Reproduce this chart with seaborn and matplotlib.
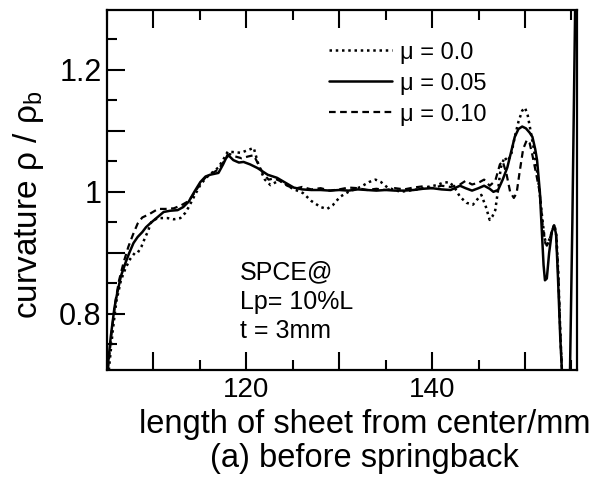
import matplotlib
matplotlib.use("Agg")
import matplotlib.pyplot as plt
import seaborn as sns
import numpy as np
import pandas as pd

# curvature ratio along the sheet, friction coefficient mu = 0.0 (dotted)
x_mu000 = [105.2, 105.6, 106.0, 106.5, 107.0, 107.5, 108.0, 108.3, 108.7, 109.1,
           109.4, 109.8, 110.5, 111.5, 112.2, 112.9, 113.4, 113.8, 114.4, 115.0,
           115.6, 116.2, 117.0, 117.6, 118.0, 118.7, 119.4, 120.1, 120.8, 121.2,
           121.5, 122.0, 122.6, 123.2, 123.7, 124.3, 125.0, 126.1, 127.0, 128.0,
           128.7, 129.3, 130.1, 131.0, 132.3, 133.2, 133.9, 134.5, 135.2, 136.6,
           137.5, 138.5, 139.5, 140.5, 141.2, 141.9, 142.5, 143.0, 143.7, 144.4,
           145.0, 145.3, 145.8, 146.2, 146.5, 146.8, 147.1, 147.4, 147.8, 148.1,
           148.5, 148.9, 149.3, 149.7, 150.0, 150.3, 150.6, 150.9, 151.2, 151.5,
           151.8, 152.1, 152.35, 152.7, 153.0, 153.2, 153.4, 153.6, 153.8, 154.0,
           154.1]
y_mu000 = [0.708, 0.77, 0.82, 0.855, 0.875, 0.89, 0.90, 0.90, 0.91, 0.925,
           0.935, 0.952, 0.957, 0.957, 0.955, 0.957, 0.965, 0.975, 0.993, 1.01,
           1.022, 1.03, 1.04, 1.055, 1.066, 1.065, 1.064, 1.068, 1.072, 1.05,
           1.036, 1.02, 1.011, 1.016, 1.018, 1.012, 1.005, 0.998, 0.985, 0.975,
           0.972, 0.978, 0.992, 1.0, 1.008, 1.016, 1.02, 1.016, 1.007, 1.0,
           1.002, 1.004, 1.008, 1.011, 1.015, 1.016, 1.005, 0.992, 0.982, 0.979,
           0.99, 0.995, 0.975, 0.954, 0.96, 0.97, 1.003, 1.04, 1.057, 1.05,
           1.06, 1.09, 1.115, 1.133, 1.138, 1.125, 1.10, 1.075, 1.045, 1.01,
           0.965, 0.925, 0.912, 0.925, 0.94, 0.945, 0.925, 0.86, 0.77, 0.70,
           0.66]

# mu = 0.05 (solid)
x_mu005 = [105.05, 105.4, 105.8, 106.1, 106.5, 107.0, 107.4, 107.85, 108.3, 108.8,
           109.2, 109.7, 110.4, 111.1, 111.8, 112.6, 113.2, 113.8, 114.4, 115.05,
           115.6, 116.1, 117.0, 117.5, 118.0, 118.6, 119.2, 119.7, 120.4, 121.2,
           122.3, 123.3, 124.2, 125.1, 126.0, 127.0, 128.0, 129.0, 130.0, 131.0,
           132.0, 133.0, 134.0, 135.0, 136.0, 137.0, 138.0, 139.0, 140.0, 141.0,
           142.0, 143.0, 143.6, 144.3, 145.0, 145.6, 146.2, 146.6, 147.1, 147.6,
           148.1, 148.5, 148.9, 149.3, 149.7, 150.1, 150.5, 150.8, 151.1, 151.3,
           151.6, 151.8, 152.0, 152.15, 152.35, 152.6, 152.9, 153.15, 153.35, 153.55,
           153.8, 154.0, 154.3, 154.6, 154.85, 155.1, 155.4, 155.55]
y_mu005 = [0.708, 0.762, 0.81, 0.834, 0.862, 0.884, 0.90, 0.916, 0.926, 0.934,
           0.942, 0.949, 0.958, 0.967, 0.969, 0.970, 0.975, 0.984, 1.0, 1.016,
           1.025, 1.028, 1.031, 1.045, 1.061, 1.052, 1.048, 1.049, 1.045, 1.039,
           1.028, 1.023, 1.015, 1.007, 1.004, 1.003, 1.003, 1.002, 1.003, 1.002,
           1.004, 1.003, 1.002, 1.003, 1.002, 1.002, 1.003, 1.005, 1.006, 1.004,
           1.003, 1.01, 1.006, 1.002, 1.006, 1.01, 1.005, 1.0, 1.003, 1.02,
           1.04, 1.065, 1.09, 1.103, 1.107, 1.104, 1.097, 1.09, 1.07, 1.052,
           1.0, 0.94, 0.88, 0.855, 0.858, 0.90, 0.935, 0.945, 0.93, 0.86,
           0.76, 0.70, 0.60, 0.60, 0.71, 0.95, 1.30, 1.45]

# mu = 0.10 (dashed)
x_mu010 = [105.1, 105.5, 105.9, 106.3, 106.8, 107.3, 107.8, 108.3, 108.8, 109.5,
           110.5, 111.3, 112.2, 113.0, 113.8, 114.5, 115.1, 115.7, 116.3, 117.0,
           117.6, 118.2, 118.8, 119.5, 120.2, 120.8, 121.3, 121.8, 122.4, 123.0,
           123.6, 124.4, 125.2, 126.0, 127.0, 128.0, 129.0, 130.0, 131.0, 132.0,
           133.0, 134.0, 135.0, 136.0, 137.0, 138.0, 139.0, 140.0, 141.0, 142.0,
           143.0, 143.6, 144.3, 145.0, 145.6, 146.2, 146.8, 147.3, 147.6, 148.0,
           148.4, 148.8, 149.1, 149.4, 149.8, 150.2, 150.5, 150.8, 151.2, 151.6,
           151.9, 152.2, 152.5, 152.8, 153.1, 153.35, 153.6, 153.8, 154.0, 154.1]
y_mu010 = [0.708, 0.77, 0.82, 0.855, 0.885, 0.91, 0.93, 0.948, 0.958, 0.963,
           0.972, 0.972, 0.973, 0.978, 0.985, 1.0, 1.015, 1.025, 1.03, 1.037,
           1.05, 1.062, 1.058, 1.055, 1.058, 1.06, 1.045, 1.03, 1.02, 1.022,
           1.018, 1.01, 1.005, 1.008, 1.004, 1.006, 1.002, 1.004, 1.007, 1.006,
           1.003, 1.005, 1.003, 1.006, 1.004, 1.007, 1.009, 1.006, 1.01, 1.008,
           1.012, 1.018, 1.012, 1.015, 1.02, 1.01, 1.018, 1.045, 1.05, 1.03,
           1.0, 0.99, 0.998, 1.03, 1.07, 1.085, 1.08, 1.06, 1.03, 0.998,
           0.945, 0.915, 0.915, 0.93, 0.945, 0.93, 0.86, 0.77, 0.70, 0.66]

series_labels = ["μ = 0.0", "μ = 0.05", "μ = 0.10"]

x_ticks_major = [110, 120, 130, 140, 150]
x_tick_labels = ["", "120", "", "140", ""]
y_ticks_major = [0.8, 0.9, 1.0, 1.1, 1.2]
y_tick_labels = ["0.8", "", "1", "", "1.2"]

note_text = "SPCE@\nLp= 10%L\nt = 3mm"

sns.set_theme(style="ticks")
plt.rcParams["font.family"] = ["Liberation Sans", "DejaVu Sans"]
plt.rcParams["mathtext.fontset"] = "custom"
plt.rcParams["mathtext.rm"] = "Liberation Sans"
for key in ["text.color", "axes.labelcolor", "xtick.color", "ytick.color",
            "axes.edgecolor"]:
    plt.rcParams[key] = "black"

fig = plt.figure(figsize=(5.89, 4.92), dpi=100)
ax = fig.add_axes([107 / 589, 1 - 370 / 492, 470 / 589, 360 / 492])

df = pd.concat([
    pd.DataFrame({"x": x_mu000, "y": y_mu000, "mu": series_labels[0]}),
    pd.DataFrame({"x": x_mu005, "y": y_mu005, "mu": series_labels[1]}),
    pd.DataFrame({"x": x_mu010, "y": y_mu010, "mu": series_labels[2]}),
])

styles = {
    series_labels[0]: dict(linestyle=(0, (1.0, 1.5)), linewidth=1.8),
    series_labels[1]: dict(linestyle="-", linewidth=1.8),
    series_labels[2]: dict(linestyle=(0, (3.0, 2.0)), linewidth=1.6),
}
handles = []
for lab in series_labels:
    sub = df[df["mu"] == lab]
    sns.lineplot(data=sub, x="x", y="y", ax=ax, color="black",
                 estimator=None, sort=False, label=lab, **styles[lab])
    handles.append(ax.lines[-1])

ax.set_xlim(105.0, 155.6)
ax.set_ylim(0.708, 1.298)

ax.set_xticks(x_ticks_major)
ax.set_xticklabels(x_tick_labels)
ax.set_xticks(np.arange(105, 156, 5), minor=True)
ax.set_yticks(y_ticks_major)
ax.set_yticklabels(y_tick_labels)
ax.set_yticks(np.arange(0.75, 1.30, 0.05), minor=True)

ax.tick_params(which="both", direction="in", top=True, right=False,
               color="black", width=1.5)
ax.tick_params(which="major", length=13)
ax.tick_params(which="minor", length=7)
ax.tick_params(axis="x", which="major", labelsize=20, pad=5)
ax.tick_params(axis="y", which="major", labelsize=22, pad=4)

for side in ["left", "right", "top", "bottom"]:
    ax.spines[side].set_visible(True)
    ax.spines[side].set_linewidth(1.6)
    ax.spines[side].set_color("black")

ax.set_xlabel("length of sheet from center/mm\n(a) before springback",
              fontsize=23.5, linespacing=1.12)
ax.xaxis.set_label_coords(0.548, -0.108)
ax.xaxis.label.set_va("top")

ax.set_ylabel("curvature ρ / ρ$_{\\mathregular{b}}$", fontsize=24, va="center")
ax.yaxis.set_label_coords(-0.166, 0.46)

ax.text(119.35, 0.820, note_text, fontsize=18, ha="left", va="center",
        linespacing=1.3, color="black")

leg = ax.legend(handles=handles, labels=series_labels, loc="upper left",
                bbox_to_anchor=(0.447, 0.945), frameon=False, fontsize=17,
                handlelength=2.67, handletextpad=0.34, labelspacing=0.38,
                borderpad=0.0)
for t in leg.get_texts():
    t.set_color("black")

fig.savefig("out.png", dpi=100, facecolor="white")
